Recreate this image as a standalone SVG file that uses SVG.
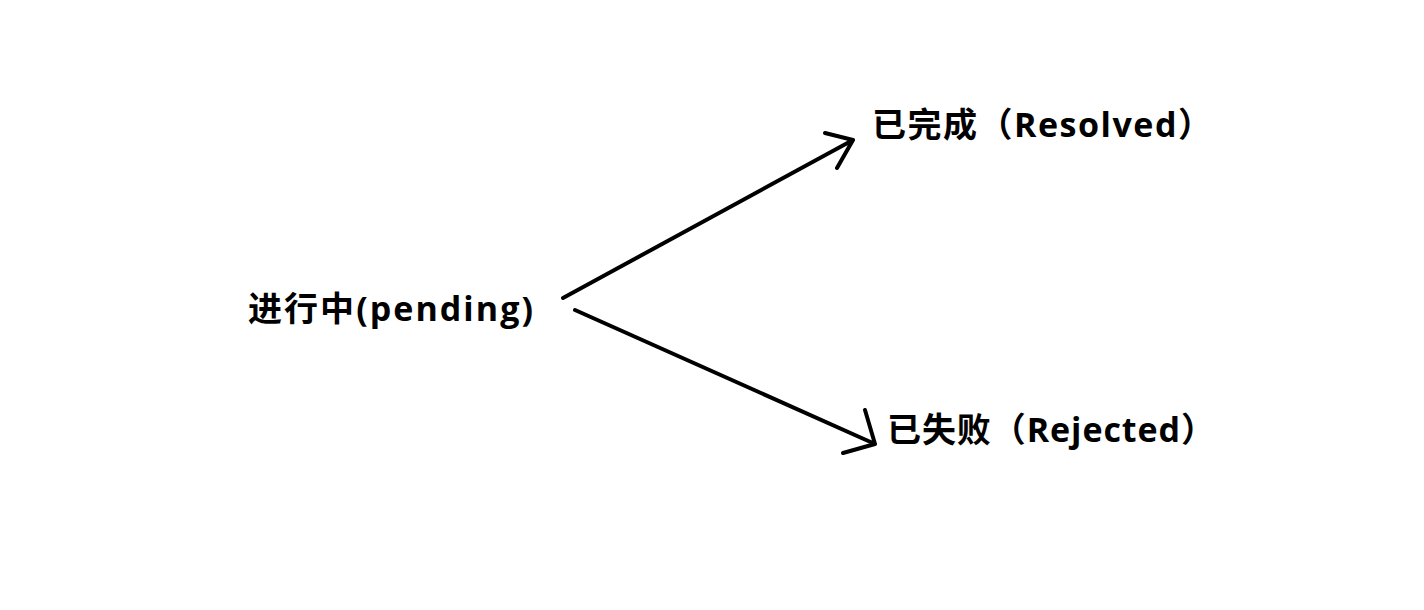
<svg xmlns="http://www.w3.org/2000/svg" width="1424" height="610" viewBox="0 0 1424 610">
<style>
.t{font-family:"Open Sans","Noto Sans CJK SC",sans-serif;font-weight:bold;font-size:34px;fill:#000}
.c{fill:none;stroke:#000;stroke-width:4;stroke-linecap:round;stroke-linejoin:round}
</style>
<rect width="1424" height="610" fill="#fff"/>
<g id="pending"><text class="t" x="248" y="321" textLength="285" lengthAdjust="spacing">进行中(pending)</text></g>
<g id="resolved"><text class="t" x="872" y="137" textLength="340" lengthAdjust="spacing">已完成（Resolved）</text></g>
<g id="rejected"><text class="t" x="887" y="442" textLength="328" lengthAdjust="spacing">已失败（Rejected）</text></g>
<g id="connectors">
<path class="c" d="M563,298 L853,140 M825,133 L853,140 L837,168"/>
<path class="c" d="M575,310 L875,444 M865,410 L875,444 L843,453"/>
</g>
</svg>
